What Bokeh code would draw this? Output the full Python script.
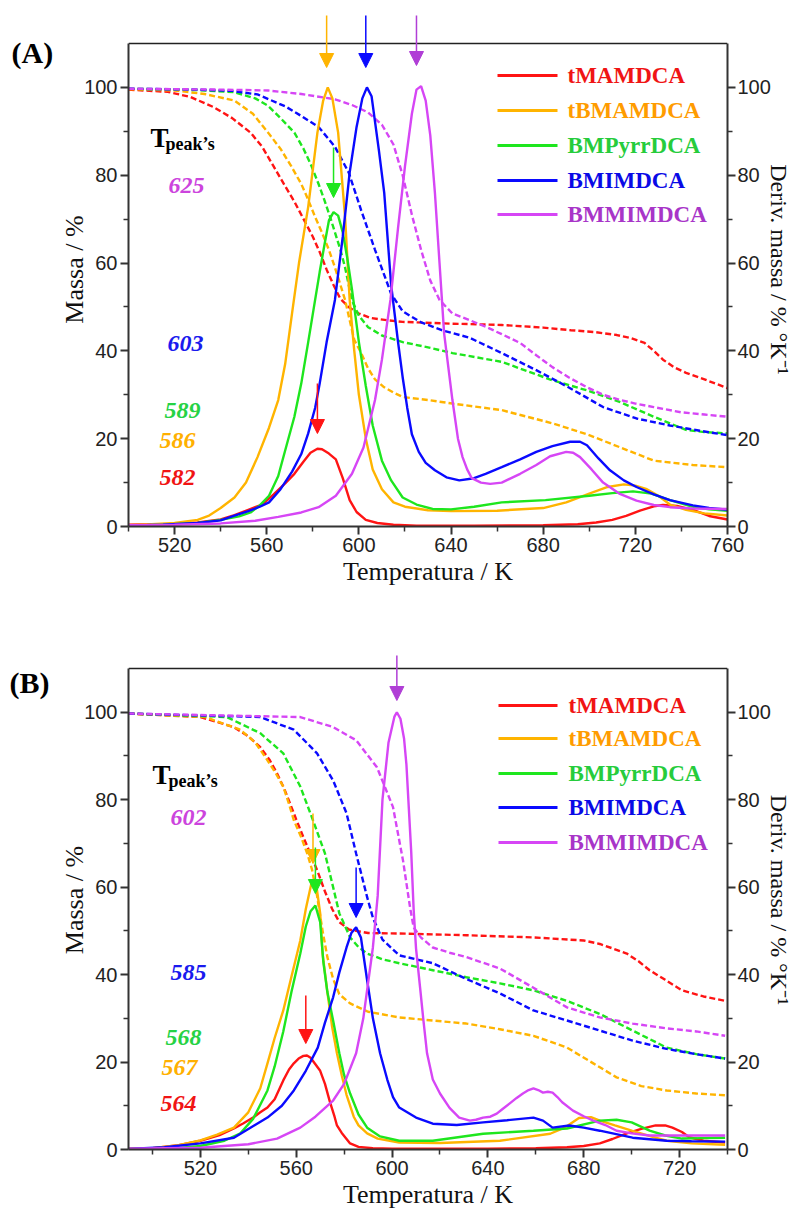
from bokeh.plotting import figure
from bokeh.models import Range1d, LinearAxis, FixedTicker, Arrow, NormalHead, Label
from bokeh.layouts import column
from bokeh.embed import file_html
from bokeh.resources import INLINE

# ---------------- common ----------------
NAMES = ["tMAMDCA", "tBMAMDCA", "BMPyrrDCA", "BMIMDCA", "BMMIMDCA"]
LINE_COLORS = ["#ff1414", "#ffb400", "#1ee61e", "#0a0aff", "#d646f5"]
TEXT_COLORS = ["#f01414", "#ff9c00", "#26cc3c", "#0a0ae6", "#a835c8"]
NUM_COLORS = ["#f01414", "#ffb000", "#26d244", "#1a1aee", "#cc44dd"]
ARROW_COLORS = ["#ff1414", "#ffb400", "#1ee61e", "#0a0aff", "#b03ed6"]

Y_TICKS = [0, 20, 40, 60, 80, 100]
Y_MINOR = [10, 30, 50, 70, 90]
Y_BOUNDS = (0, 110)

# ---------------- panel A data ----------------
A_TPEAK = [582, 586, 589, 603, 625]
A_X_TICKS = [520, 560, 600, 640, 680, 720, 760]
A_X_MINOR = [500, 540, 580, 620, 660, 700, 740]

# DTG (solid)
a_dtg_tmam_T = [500, 510, 520, 530, 540, 546, 552, 558, 563, 568, 572, 576, 579, 582, 584, 587, 590, 593, 596, 599, 603, 608, 615, 625, 650, 680, 695, 703, 710, 716, 722, 728, 732, 738, 745, 752, 760]
a_dtg_tmam = [0.4, 0.5, 0.6, 0.9, 1.6, 2.6, 3.8, 5.0, 7.3, 9.8, 12.0, 14.8, 16.8, 17.7, 17.6, 16.6, 15.3, 11.0, 6.0, 3.3, 1.5, 0.8, 0.4, 0.2, 0.2, 0.3, 0.5, 0.9, 1.5, 2.4, 3.6, 4.6, 4.9, 4.7, 3.8, 2.4, 1.6]

a_dtg_tbma_T = [500, 510, 520, 530, 535, 540, 546, 551, 556, 561, 565, 568, 571, 574, 578, 582, 584.5, 586.5, 588.5, 591, 594, 596, 598, 600, 603, 606, 610, 615, 620, 630, 640, 660, 680, 690, 700, 708, 715, 720, 725, 730, 735, 742, 750, 760]
a_dtg_tbma = [0.3, 0.5, 0.8, 1.5, 2.5, 4.2, 6.6, 10.0, 15.8, 22.5, 28.8, 37, 48.6, 60, 72.8, 89.7, 97, 100, 97.5, 89.7, 70.5, 51.6, 40, 30, 20, 13, 8.5, 5.5, 4.5, 3.7, 3.5, 3.6, 4.2, 5.5, 7.5, 9.0, 9.6, 9.3, 8.5, 7.0, 5.0, 3.8, 3.0, 2.5]

a_dtg_bmpy_T = [500, 515, 530, 540, 548, 553, 557, 561, 565, 568, 572, 575, 578, 581, 583, 585, 587, 589, 591, 593, 595, 597, 600, 603, 606, 610, 614, 619, 625, 632, 640, 650, 662, 681, 700, 710, 719, 727, 735, 745, 752, 760]
a_dtg_bmpy = [0.2, 0.4, 0.8, 1.5, 2.3, 3.2, 4.8, 7.0, 11.5, 17.3, 25, 32.6, 42, 51.6, 58, 64, 69.7, 71.6, 70.8, 67, 61, 54, 42, 32, 23, 15, 10.5, 6.6, 5.0, 4.0, 3.9, 4.5, 5.5, 6.0, 7.0, 7.6, 8.0, 7.5, 6.0, 4.5, 3.9, 3.6]

a_dtg_bmim_T = [500, 515, 530, 540, 546, 552, 557, 561, 566, 571, 575, 578, 581, 583, 586, 589.6, 593, 596, 599, 601.5, 603.5, 605.5, 608.7, 611, 614, 617, 619, 621, 623, 626, 629, 633, 638, 643.6, 650, 655, 662, 670, 677, 684, 691.7, 696, 699, 704, 709, 715, 720.5, 728, 735, 745, 752, 760]
a_dtg_bmim = [0.2, 0.4, 0.8, 1.4, 2.5, 3.5, 4.5, 5.5, 8.5, 12.5, 16.5, 21.2, 27, 32.6, 42, 51.6, 66, 80.6, 91, 97.5, 100, 98, 85.6, 76, 55, 42, 34, 27, 21, 17, 14.5, 12.8, 11.2, 10.5, 11, 12, 13.5, 15.3, 17, 18.3, 19.3, 19.3, 18.5, 15.5, 12.8, 10.5, 9, 7.3, 6, 4.8, 4.2, 3.8]

a_dtg_bmmi_T = [500, 520, 540, 555, 565, 575, 582.5, 590, 597, 602, 607, 610, 613.7, 617, 620, 623, 625, 627, 629, 631, 633, 635, 637, 640.6, 643, 645, 647, 649, 653, 657, 662, 670, 677, 683, 690, 693, 696, 701, 706, 713, 720.5, 728, 735, 745, 760]
a_dtg_bmmi = [0.3, 0.4, 0.7, 1.3, 2.2, 3.2, 4.4, 7, 12, 18, 28.8, 38, 51.6, 68, 82, 94, 99.5, 100.3, 97, 89, 76, 60, 44, 28.8, 20, 15.8, 13, 11, 10, 9.7, 10, 12, 14, 16, 17, 16.8, 15.8, 13, 10, 7.5, 5.9, 4.9, 4.4, 4.1, 4.0]

# TGA mass (dashed)
a_tg_tmam_T = [500, 517, 527, 537, 545, 553, 558, 563, 568, 572, 576, 580, 583, 586, 589, 592, 596, 600, 605, 612, 619, 640, 662, 680, 692, 702, 712, 718, 724, 728, 732, 737, 742, 750, 760]
a_tg_tmam = [99.5, 99.0, 97.8, 95.5, 93, 89.7, 86.5, 82, 77.5, 74, 70, 66, 62.5, 58.5, 55, 51.8, 49.8, 48.5, 47.5, 47, 46.6, 46.2, 45.9, 45.3, 44.7, 44.3, 43.6, 42.9, 41.8, 40, 38, 36.2, 35, 33.5, 31.5]

a_tg_tbma_T = [500, 520, 533, 546, 554, 560.6, 566, 570.7, 575, 578, 581, 584, 587, 589.6, 592, 594, 596, 598, 601, 604, 607, 611, 615, 619, 630, 640.6, 662, 684, 699, 713.5, 728, 745, 760]
a_tg_tbma = [99.6, 99.3, 98.5, 97, 94, 89.7, 86, 82, 78, 74.4, 70.5, 66.9, 63, 59, 55, 51.6, 47, 42.5, 39.5, 36, 33.5, 31.7, 30.5, 29.5, 28.8, 28, 26.5, 23.5, 21, 18, 15, 14, 13.5]

a_tg_bmpy_T = [500, 530, 546, 555, 560.6, 566, 572, 576, 579.5, 582.5, 585, 587.5, 589.6, 592, 594, 597, 600, 604, 610, 619, 630, 640.6, 662, 684, 699, 713.5, 728, 742, 750, 760]
a_tg_bmpy = [99.7, 99.4, 98.9, 97.5, 95.8, 93, 89.7, 86, 82, 78, 74.4, 70.5, 67, 63, 59, 51.5, 48, 45.4, 43.5, 42, 40.8, 39.5, 37.5, 33.3, 31, 28.3, 25, 22, 21.5, 21.2]

a_tg_bmim_T = [500, 530, 545, 556, 568, 575, 582.5, 589.6, 595.6, 601, 607, 614, 619, 627, 636, 648, 662, 677, 691.7, 706, 720.5, 735, 748, 760]
a_tg_bmim = [99.7, 99.5, 99.2, 98.4, 95.7, 93.5, 91, 86.5, 80.6, 72, 63, 53, 49, 46.5, 44.7, 43, 39.5, 35.6, 31.5, 27.2, 24.6, 23, 21.8, 20.8]

a_tg_bmmi_T = [500, 540, 560.6, 575, 589.6, 597, 604, 610, 615, 619, 623, 627, 631, 635, 640.6, 648, 655, 662, 670, 677, 684, 691, 699, 706, 713.5, 720, 728, 740, 750, 760]
a_tg_bmmi = [99.7, 99.5, 99.3, 98.5, 97.3, 96, 94.3, 91.5, 87, 80, 71, 63, 56, 51.6, 48.5, 47, 45.5, 43.8, 41.8, 39, 36.3, 34, 31.7, 30, 28.8, 28, 27.2, 26, 25.5, 25]

# ---------------- panel B data ----------------
B_TPEAK = [564, 567, 568, 585, 602]
B_X_TICKS = [520, 560, 600, 640, 680, 720]
B_X_MINOR = [500, 540, 580, 620, 660, 700, 740]

b_dtg_tmam_T = [490, 500, 510, 520, 528, 534, 538, 542, 545, 548, 551, 554.6, 557, 559, 561, 563, 564.5, 566, 568, 570, 572, 574, 576, 577, 579, 582.5, 586, 592, 600, 640, 660, 673, 680, 686.7, 692, 698, 704, 710, 714, 717, 721, 724, 730, 739]
b_dtg_tmam = [0.2, 0.3, 0.9, 2.0, 3.3, 4.8, 6.0, 7.3, 8.5, 9.6, 11.5, 15.8, 18.3, 19.7, 20.8, 21.4, 21.5, 21.0, 19.5, 18.0, 15, 11, 7.5, 5.5, 3.8, 1.4, 0.6, 0.3, 0.2, 0.2, 0.3, 0.5, 0.8, 1.4, 2.4, 3.7, 4.7, 5.5, 5.5, 5.0, 4.0, 2.8, 2.0, 1.6]

b_dtg_tbma_T = [490, 500, 510, 520, 527, 534, 540, 545, 548, 551, 554.6, 558, 561.7, 564, 566.6, 568.5, 570, 571, 573, 575, 577, 579, 581, 584, 586, 589.6, 594, 603, 620, 645, 666, 672, 678, 683, 686.7, 693, 700, 708, 714.6, 725, 739]
b_dtg_tbma = [0.1, 0.3, 0.9, 2.1, 3.4, 5, 8.5, 14, 19.7, 25.5, 31.8, 39.5, 47.8, 55, 61.5, 60, 54, 44.8, 36, 28, 22, 17, 12.5, 7.5, 5.5, 3.7, 2.5, 1.6, 1.5, 2.0, 3.6, 5, 7.2, 7.4, 6.6, 5.5, 4.3, 3, 2, 1.4, 1.1]

b_dtg_bmpy_T = [490, 510, 520, 530, 536.7, 542, 548, 551, 554.6, 558, 561.7, 564, 566, 568, 570, 571.3, 573, 575.4, 578, 580, 582.5, 586, 589.6, 595, 603, 617, 638, 659, 673, 686.7, 693.7, 700, 707.5, 714, 721, 730, 739]
b_dtg_bmpy = [0.1, 0.3, 0.8, 2.0, 3.7, 7, 13.5, 19, 27, 36, 44.8, 51, 54.5, 55.8, 52, 43, 36, 29.5, 22, 17, 12.8, 8, 5, 3, 2, 2, 3.6, 4.3, 4.8, 6.6, 6.8, 6.2, 4.3, 3.2, 2.5, 2.6, 2.7]

b_dtg_bmim_T = [490, 505, 520, 534, 548, 554, 559, 564, 569, 572, 575.4, 578, 581, 583, 585, 587, 589.6, 592, 595, 598, 600.4, 603, 610, 617, 627, 638, 648, 659, 663, 667, 674, 680, 686.7, 700.4, 714.6, 725, 739]
b_dtg_bmim = [0.1, 0.5, 1.4, 2.7, 7.3, 10, 13.5, 18, 23.3, 29, 34.8, 40.5, 46.2, 49.5, 50.8, 48.5, 38.7, 30, 22, 16, 12, 9.6, 7.3, 5.9, 5.6, 6.2, 6.7, 7.3, 6.6, 5, 5.5, 5, 4.3, 2.7, 2, 1.9, 1.8]

b_dtg_bmmi_T = [490, 520, 540, 552, 561.7, 568, 575.4, 580, 585, 588, 592, 594, 596, 598.5, 601, 602, 603.5, 605, 606, 607, 608, 609, 610, 611.7, 613, 614.6, 617, 620, 624, 628, 632.5, 635, 638, 641, 643.7, 646, 649, 652, 654.6, 657, 659, 661, 663, 665, 667, 669, 671, 675.5, 680, 684, 689, 693.7, 700, 707.5, 720, 739]
b_dtg_bmmi = [0.2, 0.4, 1.2, 2.5, 5, 7.5, 11.2, 15, 22, 30, 46.2, 58, 80, 93, 99, 100, 98.5, 94, 88, 78, 68, 55, 46, 37, 30, 22, 16, 12.8, 9.5, 7.3, 6.6, 6.8, 7.3, 7.5, 8.2, 9.2, 10.5, 11.8, 12.8, 13.6, 14, 13.6, 13, 13.2, 13, 12, 10.8, 8.9, 7.6, 6.6, 5.6, 4.3, 3.7, 3.2, 3.2, 3.2]

b_tg_tmam_T = [490, 520, 534, 540, 545, 549, 552, 555, 557.5, 560, 563, 566, 569, 572, 575, 578, 582, 590, 603, 631, 659, 680, 686.7, 692, 698, 703, 707.5, 714, 721, 730, 739]
b_tg_tmam = [99.7, 98.9, 96.6, 94.5, 92, 89, 86, 82.5, 79, 75.5, 71.4, 67.5, 63.5, 59, 55, 52, 50.3, 49.5, 49.4, 49, 48.5, 47.8, 47, 46, 44.8, 43, 41, 38.8, 36.4, 35, 34]

b_tg_tbma_T = [490, 522, 536.7, 543, 548, 551.5, 554.6, 557, 559, 562, 564.6, 566.6, 568.7, 571, 573, 575.4, 578, 582.5, 590, 603, 617, 631, 645, 659, 673, 684, 693.7, 704, 714.6, 727, 739]
b_tg_tbma = [99.7, 98.9, 96, 93, 89, 86, 83, 79, 75.3, 71.5, 67.7, 64, 58, 50, 44, 39, 35.5, 33.4, 31.5, 30.2, 29.5, 28.8, 27.5, 26, 23.3, 19.7, 16.5, 14.5, 13.5, 12.8, 12.4]

b_tg_bmpy_T = [490, 531, 545, 554.6, 561.7, 567, 572, 575.4, 578, 582.5, 586, 589.6, 596, 603, 617, 631, 645, 659, 673, 686.7, 700.4, 714.6, 727, 739]
b_tg_bmpy = [99.7, 98.9, 95.2, 90.6, 83, 75.3, 67.7, 60, 54, 48.5, 46.3, 44.8, 43.5, 42.6, 41, 39.4, 38, 36.4, 34, 31, 27.2, 23.3, 21.8, 20.8]

b_tg_bmim_T = [490, 545, 559, 568.7, 575.4, 581, 585, 589.6, 592, 596, 603, 617, 631, 645, 659, 673, 686.7, 700.4, 714.6, 727, 739]
b_tg_bmim = [99.7, 98.9, 96, 90.6, 84.4, 76.9, 67.7, 57.7, 53, 48, 44.4, 42.6, 39, 35.7, 31.8, 29.5, 27.2, 24.9, 23, 21.8, 20.8]

b_tg_bmmi_T = [490, 561.7, 575.4, 585, 593.7, 600.4, 604.6, 607.5, 609, 612, 617, 624, 631, 645, 659, 673, 686.7, 700.4, 714.6, 727, 739]
b_tg_bmmi = [99.7, 98.9, 96.6, 93.6, 87.4, 78.3, 66, 55.4, 50.8, 48.5, 46.2, 45, 44, 41.4, 37, 32.5, 30.2, 28.8, 27.7, 27, 26]

A_DTG = [(a_dtg_tmam_T, a_dtg_tmam), (a_dtg_tbma_T, a_dtg_tbma), (a_dtg_bmpy_T, a_dtg_bmpy), (a_dtg_bmim_T, a_dtg_bmim), (a_dtg_bmmi_T, a_dtg_bmmi)]
A_TG = [(a_tg_tmam_T, a_tg_tmam), (a_tg_tbma_T, a_tg_tbma), (a_tg_bmpy_T, a_tg_bmpy), (a_tg_bmim_T, a_tg_bmim), (a_tg_bmmi_T, a_tg_bmmi)]
B_DTG = [(b_dtg_tmam_T, b_dtg_tmam), (b_dtg_tbma_T, b_dtg_tbma), (b_dtg_bmpy_T, b_dtg_bmpy), (b_dtg_bmim_T, b_dtg_bmim), (b_dtg_bmmi_T, b_dtg_bmmi)]
B_TG = [(b_tg_tmam_T, b_tg_tmam), (b_tg_tbma_T, b_tg_tbma), (b_tg_bmpy_T, b_tg_bmpy), (b_tg_bmim_T, b_tg_bmim), (b_tg_bmmi_T, b_tg_bmmi)]

# ---------------- layout (page pixels) ----------------
# box = (left, right, top, bottom) of the drawn axes box; canvas_top = top of the plotting canvas
LAYOUT_A = dict(top_px=0, height=600, box=(128, 727, 43, 526), canvas_top=12, xr=(500, 760),
                tag="(A)", tag_pos=(11, 68), T_pos=(150, 137), sub_pos=(165, 143),
                num_pos=[(177, 477), (177, 440), (182, 410), (185, 343), (186, 185)],
                arrows=[(383, 433), (15, 67), (147, 197), (15, 67), (15, 65)],
                leg_y=[75, 110, 145, 180, 214], leg_x=(497, 557, 567))
LAYOUT_B = dict(top_px=600, height=616, box=(128, 727, 668, 1149), canvas_top=650, xr=(490, 740),
                tag="(B)", tag_pos=(9, 698), T_pos=(152, 774), sub_pos=(168, 780),
                num_pos=[(178, 1103), (179, 1067), (183, 1037), (188, 972), (188, 817)],
                arrows=[(995, 1043), (813, 863), (847, 893), (867, 917), (655, 700)],
                leg_y=[705, 738, 773, 807, 842], leg_x=(498, 557, 568))


def make_panel(L, dtg, tg, tpeaks, xticks, xminor):
    bl, br, bt, bb = L["box"]
    x0, x1 = L["xr"]
    y0, y1 = Y_BOUNDS

    def dx(px):
        return x0 + (px - bl) / (br - bl) * (x1 - x0)

    def dy(py):
        return y0 + (bb - py) / (bb - bt) * (y1 - y0)

    ct = L["canvas_top"]
    p = figure(width=795, height=L["height"], x_range=Range1d(x0, x1), y_range=Range1d(y0, dy(ct)),
               output_backend="svg", toolbar_location=None,
               min_border_left=bl, min_border_right=795 - br,
               min_border_top=ct - L["top_px"], min_border_bottom=L["top_px"] + L["height"] - bb,
               background_fill_color="white", border_fill_color="white")
    p.xgrid.visible = False
    p.ygrid.visible = False
    p.outline_line_color = None

    # panel tag as a left-aligned title pulled down beside the axes box
    gx, gy = L["tag_pos"]
    p.title.text = L["tag"]
    p.title.align = "left"
    p.title.vertical_align = "bottom"
    p.title.offset = gx - bl
    p.title.standoff = -2 * (gy - ct)
    p.title.text_font = "Liberation Serif"
    p.title.text_font_style = "bold"
    p.title.text_font_size = "30px"
    p.title.text_color = "black"

    right = LinearAxis()
    p.add_layout(right, "right")

    p.xaxis[0].ticker = FixedTicker(ticks=xticks, minor_ticks=xminor)
    p.yaxis[0].ticker = FixedTicker(ticks=Y_TICKS, minor_ticks=Y_MINOR)
    right.ticker = FixedTicker(ticks=Y_TICKS, minor_ticks=Y_MINOR)
    p.yaxis[0].bounds = Y_BOUNDS
    right.bounds = Y_BOUNDS
    p.xaxis[0].axis_label = "Temperatura / K"
    p.yaxis[0].axis_label = "Massa / %"
    right.axis_label = "Deriv. massa / % \u00b0K\u207b\u00b9"

    for ax in [p.xaxis[0], p.yaxis[0], right]:
        ax.axis_line_color = "#333333"
        ax.axis_line_width = 2
        ax.major_tick_line_color = "#333333"
        ax.minor_tick_line_color = "#333333"
        ax.major_tick_line_width = 2
        ax.minor_tick_line_width = 1.5
        ax.major_tick_in = 0
        ax.major_tick_out = 8
        ax.minor_tick_in = 0
        ax.minor_tick_out = 5
        ax.major_label_text_font = "Liberation Sans"
        ax.major_label_text_font_size = "20px"
        ax.major_label_text_color = "#222222"
        ax.major_label_standoff = 3
        ax.axis_label_text_font = "Liberation Serif"
        ax.axis_label_text_font_style = "normal"
        ax.axis_label_text_font_size = "26px"
        ax.axis_label_text_color = "#111111"
        ax.axis_label_standoff = 2
    p.yaxis[0].axis_label_standoff = -8
    right.axis_label_text_font_size = "24px"
    right.axis_label_standoff = -8
    right.major_label_standoff = 2

    # top edge of the axes box
    p.segment(x0=[x0], y0=[y1], x1=[x1], y1=[y1], line_color="#222222", line_width=1.5)

    # mass curves (dashed)
    for (t, v), c in zip(tg, LINE_COLORS):
        p.line(t, v, line_color=c, line_width=2.4, line_dash="6 3")
    # derivative curves (solid)
    for (t, v), c in zip(dtg, LINE_COLORS):
        p.line(t, v, line_color=c, line_width=2.4)

    # arrows marking the peaks
    for tp, (top, tip), c in zip(tpeaks, L["arrows"], ARROW_COLORS):
        p.add_layout(Arrow(end=NormalHead(size=14, fill_color=c, line_color=c, line_width=1),
                           x_start=tp, y_start=dy(top), x_end=tp, y_end=dy(tip),
                           line_color=c, line_width=1.5))

    # peak temperature labels
    tx, ty = L["T_pos"]
    p.add_layout(Label(x=dx(tx), y=dy(ty), text="T", text_font="Liberation Serif",
                       text_font_style="bold", text_font_size="27px", text_color="black",
                       text_baseline="alphabetic", text_align="left"))
    sx, sy = L["sub_pos"]
    p.add_layout(Label(x=dx(sx), y=dy(sy), text="peak\u2019s", text_font="Liberation Serif",
                       text_font_style="bold", text_font_size="18px", text_color="black",
                       text_baseline="alphabetic", text_align="left"))
    for tp, (nx, ny), c in zip(tpeaks, L["num_pos"], NUM_COLORS):
        p.add_layout(Label(x=dx(nx), y=dy(ny), text=str(tp), text_font="Liberation Serif",
                           text_font_style="bold italic", text_font_size="24px", text_color=c,
                           text_baseline="middle", text_align="center"))

    # legend (solid = derivative curves)
    lx0, lx1, ltx = L["leg_x"]
    for name, ly, lc, tc in zip(NAMES, L["leg_y"], LINE_COLORS, TEXT_COLORS):
        p.segment(x0=[dx(lx0)], y0=[dy(ly)], x1=[dx(lx1)], y1=[dy(ly)], line_color=lc, line_width=3)
        p.add_layout(Label(x=dx(ltx), y=dy(ly), text=name, text_font="Liberation Serif",
                           text_font_style="bold", text_font_size="23px", text_color=tc,
                           text_baseline="middle", text_align="left"))
    return p


pA = make_panel(LAYOUT_A, A_DTG, A_TG, A_TPEAK, A_X_TICKS, A_X_MINOR)
pB = make_panel(LAYOUT_B, B_DTG, B_TG, B_TPEAK, B_X_TICKS, B_X_MINOR)

layout = column(pA, pB, spacing=0)
open("out.html", "w").write(file_html(layout, INLINE))
